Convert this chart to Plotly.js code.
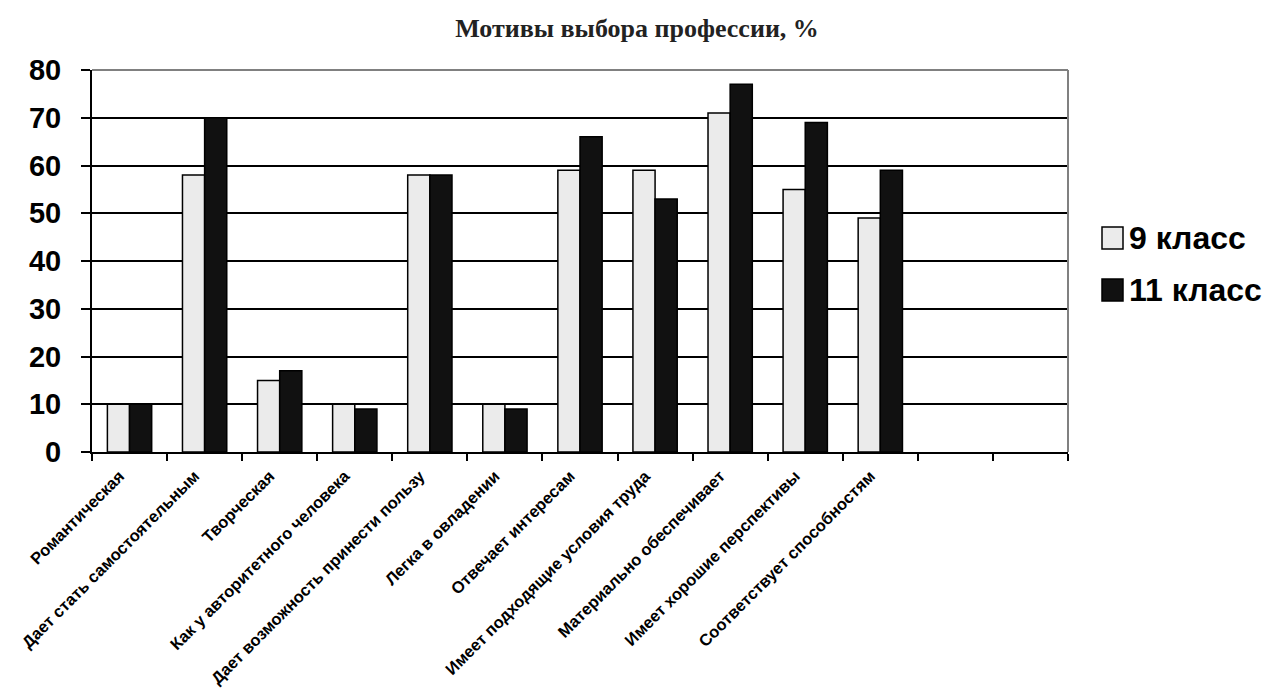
<!DOCTYPE html>
<html>
<head>
<meta charset="utf-8">
<script src="https://cdn.plot.ly/plotly-3.0.1.min.js"></script>
<style>html,body{margin:0;padding:0;background:#fff;}#chart{width:1274px;height:695px;}</style>
</head>
<body>
<div id="chart"></div>
<script>
const categories = [
  "Романтическая",
  "Дает стать самостоятельным",
  "Творческая",
  "Как у авторитетного человека",
  "Дает возможность принести пользу",
  "Легка в овладении",
  "Отвечает интересам",
  "Имеет подходящие условия труда",
  "Материально обеспечивает",
  "Имеет хорошие перспективы",
  "Соответствует способностям"
];
const emptyCategories = [" ", "  "];
const grade9 = [10, 58, 15, 10, 58, 10, 59, 59, 71, 55, 49];
const grade11 = [10, 70, 17, 9, 58, 9, 66, 53, 77, 69, 59];
const seriesNames = ["9 класс", "11 класс"];
const seriesColors = ["#ebebeb", "#111111"];
const yTicks = [0, 10, 20, 30, 40, 50, 60, 70, 80];

const data = [grade9, grade11].map((vals, i) => ({
  type: "bar", name: seriesNames[i], x: categories, y: vals,
  marker: {color: seriesColors[i], line: {color: "#000", width: 1.5}}
}));

// plot area in pixels: x 92..1068, y 70..452
const L = 92, R = 1068, T = 70, B = 452;
const px = v => (v - L) / (R - L);
const py = v => (B - v) / (B - T);

const legendShapes = [];
const legendAnn = [];
seriesNames.forEach((name, i) => {
  const cy = 238 + i * 52;
  legendShapes.push({type: "rect", xref: "paper", yref: "paper",
    x0: px(1102), x1: px(1123), y0: py(cy + 11), y1: py(cy - 11),
    fillcolor: seriesColors[i], line: {color: "#000", width: 1.5}});
  legendAnn.push({xref: "paper", yref: "paper", x: px(1127), y: py(cy), xanchor: "left", yanchor: "middle",
    text: name, showarrow: false,
    font: {family: "Liberation Sans, Arial, sans-serif", size: 32, color: "#000", weight: "bold"}});
});

const layout = {
  width: 1274, height: 695,
  margin: {l: L, r: 1274 - R, t: T, b: 695 - B},
  paper_bgcolor: "#fff", plot_bgcolor: "#fff",
  title: {text: "Мотивы выбора профессии, %", x: 0.5, xref: "container", xanchor: "center",
          y: 1 - 28 / 695, yanchor: "middle",
          font: {family: "Liberation Serif, Times New Roman, serif", size: 26, color: "#222", weight: "bold"}},
  barmode: "group", bargap: 0.41, bargroupgap: 0,
  showlegend: false,
  xaxis: {type: "category", categoryorder: "array", categoryarray: categories.concat(emptyCategories),
          range: [-0.5, 12.5], tickson: "boundaries", ticks: "outside", ticklen: 7, tickwidth: 2, tickcolor: "#000",
          showline: true, linecolor: "#000", linewidth: 2, showgrid: false, tickangle: -45,
          ticklabelstandoff: 6, ticklabelshift: -10,
          tickfont: {family: "Liberation Sans, Arial, sans-serif", size: 16.5, color: "#000", weight: "bold"},
          fixedrange: true},
  yaxis: {range: [0, 80], tickvals: yTicks, ticks: "outside", ticklen: 9, tickwidth: 2, tickcolor: "#000",
          showline: true, linecolor: "#000", linewidth: 2, showgrid: true, gridcolor: "#000", gridwidth: 2,
          zeroline: false, ticklabelstandoff: 14,
          tickfont: {family: "Liberation Sans, Arial, sans-serif", size: 29, color: "#000", weight: "bold"},
          fixedrange: true},
  shapes: [
    {type: "line", xref: "paper", yref: "paper", x0: 0, x1: 1, y0: 1, y1: 1, line: {color: "#808080", width: 2}},
    {type: "line", xref: "paper", yref: "paper", x0: 1, x1: 1, y0: 0, y1: 1, line: {color: "#808080", width: 2}}
  ].concat(legendShapes),
  annotations: legendAnn
};

Plotly.newPlot("chart", data, layout, {displayModeBar: false, staticPlot: true});
</script>
</body>
</html>
